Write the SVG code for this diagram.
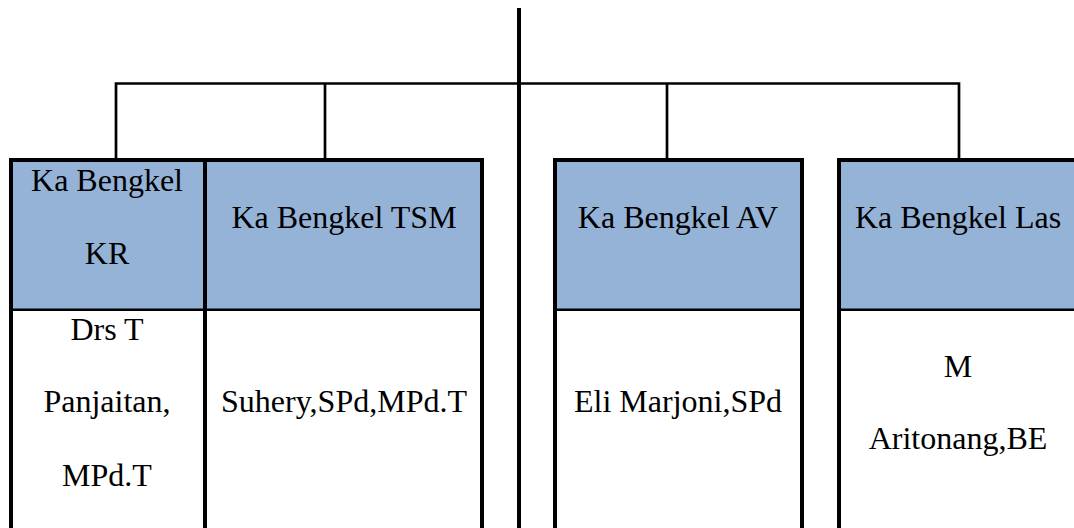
<svg xmlns="http://www.w3.org/2000/svg" width="1074" height="528" viewBox="0 0 1074 528">
<style>
.hdr{fill:#95B3D7;stroke:none}
.body{fill:#FFFFFF;stroke:none}
.frame{fill:none;stroke:#000;stroke-width:4}
.sep{stroke:#000;stroke-width:2.5;fill:none}
.col{stroke:#000;stroke-width:4;fill:none}
.conn{stroke:#000;stroke-width:2.7;fill:none;stroke-linejoin:miter}
.trunk{stroke:#000;stroke-width:4;fill:none}
text{font-family:"Liberation Serif","Times New Roman",serif;font-size:32px;fill:#000;text-anchor:middle}
</style>
<rect width="1074" height="528" fill="#FFFFFF"/>
<g id="connectors">
<line class="trunk" x1="519" y1="8" x2="519" y2="530"/>
<path class="conn" d="M116,160 V83.5 H959 V160"/>
<line class="conn" x1="325" y1="83.5" x2="325" y2="160"/>
<line class="conn" x1="667" y1="83.5" x2="667" y2="160"/>
</g>
<g id="node-kr-tsm">
<rect class="body" x="11" y="160" width="471" height="380"/>
<rect class="hdr" x="11" y="160" width="471" height="150"/>
<line class="sep" x1="11" y1="309.7" x2="482" y2="309.7"/>
<line class="col" x1="205" y1="160" x2="205" y2="540"/>
<rect class="frame" x="11" y="160" width="471" height="380"/>
<text x="107" y="191">Ka Bengkel</text>
<text x="107" y="264">KR</text>
<text x="344" y="228">Ka Bengkel TSM</text>
<text x="107" y="340">Drs T</text>
<text x="107" y="412">Panjaitan,</text>
<text x="107" y="486">MPd.T</text>
<text x="344" y="412">Suhery,SPd,MPd.T</text>
</g>
<g id="node-av">
<rect class="body" x="555" y="160" width="247" height="380"/>
<rect class="hdr" x="555" y="160" width="247" height="150"/>
<line class="sep" x1="555" y1="309.7" x2="802" y2="309.7"/>
<rect class="frame" x="555" y="160" width="247" height="380"/>
<text x="678" y="228">Ka Bengkel AV</text>
<text x="678" y="412">Eli Marjoni,SPd</text>
</g>
<g id="node-las">
<rect class="body" x="839" y="160" width="241" height="380"/>
<rect class="hdr" x="839" y="160" width="241" height="150"/>
<line class="sep" x1="839" y1="309.7" x2="1080" y2="309.7"/>
<rect class="frame" x="839" y="160" width="241" height="380"/>
<text x="958" y="228">Ka Bengkel Las</text>
<text x="958" y="377">M</text>
<text x="958" y="449">Aritonang,BE</text>
</g>
</svg>
